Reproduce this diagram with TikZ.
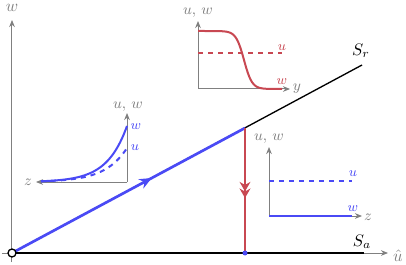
\documentclass[tikz,border=0pt]{standalone}
\usepackage{amsmath}
\usepackage{tikz}
\usetikzlibrary{arrows.meta, decorations.markings}
\definecolor{flowblue}{RGB}{74,74,245}
\definecolor{flowred}{RGB}{200,72,82}
\tikzset{
    axis/.style     = {gray, semithick, -{Stealth[length=1.5mm, width=1.2mm]}},
    axlabel/.style  = {text=gray, inner sep=1pt},
    inlabel/.style  = {text=gray, font=\small, inner sep=1pt},
    curvelab/.style = {font=\footnotesize, inner sep=1pt},
    branch/.style   = {black, thick},
    slowflow/.style = {flowblue, line width=1.6pt, postaction={decorate},
                       decoration={markings, mark=at position 0.6 with {\arrow{Stealth[length=2.6mm, width=2.2mm]}}}},
    fastflow/.style = {flowred, line width=1.6pt, postaction={decorate},
                       decoration={markings, mark=at position 0.56 with {\arrow{Stealth[length=2mm, width=2.3mm, sep=-0.6mm] Stealth[length=2mm, width=2.3mm]}}}},
    profile/.style  = {line width=1.2pt},
}

\begin{document}
\begin{tikzpicture}[x=0.6pt, y=0.6pt]
    \useasboundingbox (-12,-11) rectangle (394,253);
    % main phase plane
    \coordinate (O)    at (0,0);
    \coordinate (wbot) at (0,-9);
    \coordinate (wtop) at (0,233);
    \coordinate (ubeg) at (-10,0);
    \coordinate (uend) at (376,0);
    \coordinate (Sa)   at (352,0);
    \coordinate (Sr)   at (350,188);
    \coordinate (P)    at (233,125);
    \coordinate (Q)    at (233,0);
    \draw[axis] (wbot) -- (wtop);
    \draw[axis] (ubeg) -- (uend);
    \node[axlabel] (wlab) at (0,245) {$w$};
    \node[axlabel] (ulab) at (386,-3) {$\hat u$};
    \draw[branch] (O) -- (Sa);
    \draw[branch] (O) -- (Sr);
    \node (Salab) at (350,11) {$S_a$};
    \node (Srlab) at (349,202) {$S_r$};
    \draw[slowflow] (O) -- (P);
    \draw[fastflow] (P) -- (Q);
    \fill[flowblue] (Q) circle (1.5pt);
    \draw[thick, fill=white] (O) circle (2.4pt);

    % profile along the slow branch
    \begin{scope}[shift={(115,71)}]
        \coordinate (c1)  at (0,0);
        \coordinate (c1v) at (0,69);
        \coordinate (c1h) at (-91,0);
        \draw[axis] (c1) -- (c1v);
        \draw[axis] (c1) -- (c1h);
        \node[inlabel] (c1lv) at (1,75) {$u,\, w$};
        \node[inlabel] (c1lh) at (-99,0) {$z$};
        \draw[profile, flowblue] plot[domain=-86:0, samples=50] (\x, {56*exp(\x/20)});
        \draw[profile, flowblue, dashed] plot[domain=-86:0, samples=50] (\x, {34*exp(\x/22)});
        \node[curvelab, text=flowblue] (c1w) at (9,55) {$w$};
        \node[curvelab, text=flowblue] (c1u) at (8,34) {$u$};
    \end{scope}

    % front profile
    \begin{scope}[shift={(186,164)}]
        \coordinate (c2)  at (0,0);
        \coordinate (c2v) at (0,68);
        \coordinate (c2h) at (92,0);
        \draw[axis] (c2) -- (c2v);
        \draw[axis] (c2) -- (c2h);
        \node[inlabel] (c2lv) at (0,76) {$u,\, w$};
        \node[inlabel] (c2lh) at (99,0) {$y$};
        \draw[profile, flowred] plot[domain=0:84, samples=60] (\x, {29-29*tanh((\x-46)/8)});
        \draw[profile, flowred, dashed] (0,36) -- (84,36);
        \node[curvelab, text=flowred] (c2u) at (84,41) {$u$};
        \node[curvelab, text=flowred] (c2w) at (84,7) {$w$};
    \end{scope}

    % profile on the critical manifold
    \begin{scope}[shift={(257,37)}]
        \coordinate (c3)  at (0,0);
        \coordinate (c3v) at (0,69);
        \coordinate (c3h) at (93,0);
        \draw[axis] (c3) -- (c3v);
        \draw[axis] (c3) -- (c3h);
        \node[inlabel] (c3lv) at (0,77) {$u,\, w$};
        \node[inlabel] (c3lh) at (99,-1) {$z$};
        \draw[profile, flowblue] (0,0) -- (83,0);
        \draw[profile, flowblue, dashed] (0,35) -- (83,35);
        \node[curvelab, text=flowblue] (c3u) at (84,42) {$u$};
        \node[curvelab, text=flowblue] (c3w) at (84,7) {$w$};
    \end{scope}
\end{tikzpicture}
\end{document}
